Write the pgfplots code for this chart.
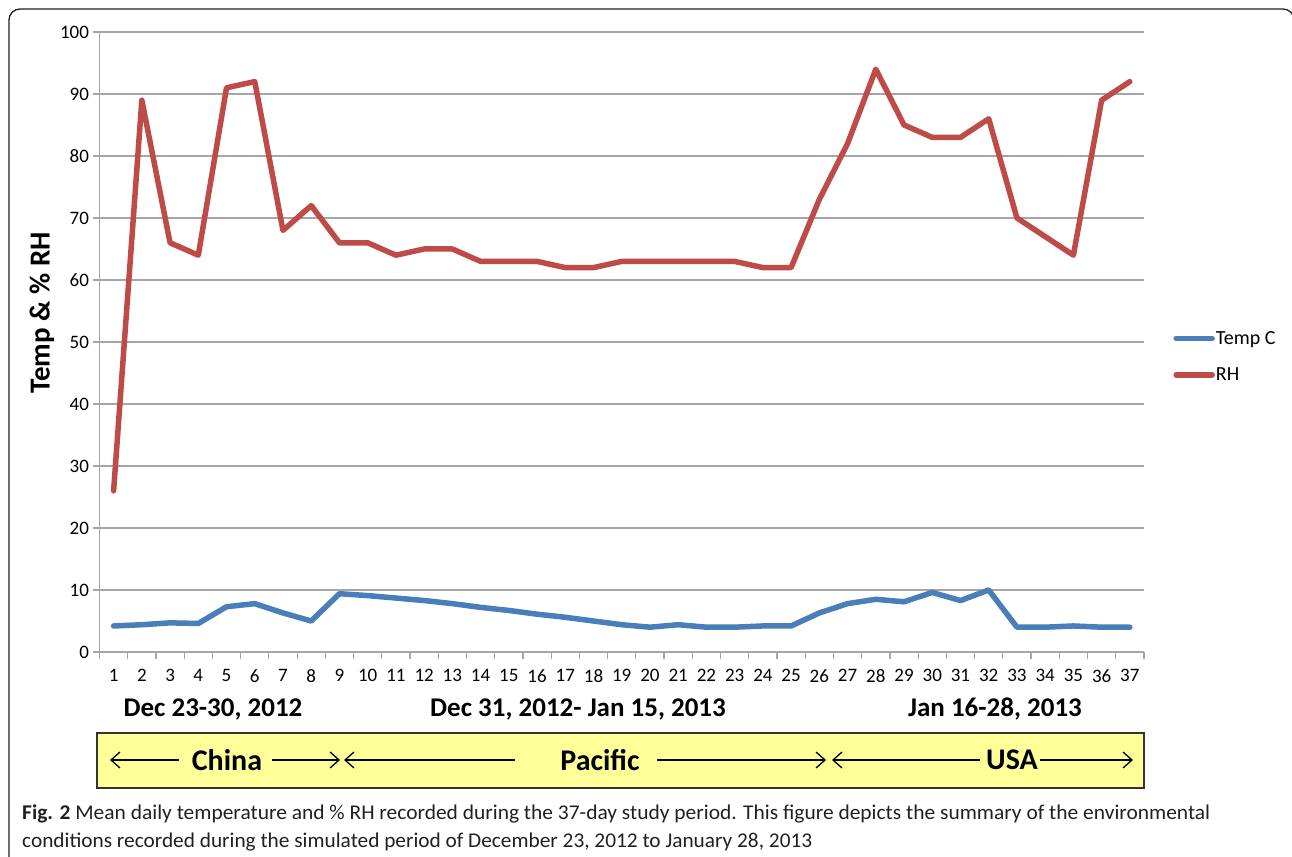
\documentclass[border=0pt]{standalone}
\usepackage{pgfplots}
\pgfplotsset{compat=1.18}
\usepackage{pgfplotstable}
\usepackage{fontspec}
\setmainfont{Carlito}
\usetikzlibrary{arrows.meta}
\definecolor{tempc}{HTML}{4A7EBB}
\definecolor{rhc}{HTML}{BE4B48}
\definecolor{gridc}{HTML}{A6A6A6}
\definecolor{boxy}{HTML}{FFFF99}
\definecolor{capc}{HTML}{231F20}

\pgfplotstableread{
day temp rh
1 4.2 26
2 4.4 89
3 4.7 66
4 4.6 64
5 7.3 91
6 7.8 92
7 6.3 68
8 5.0 72
9 9.4 66
10 9.1 66
11 8.7 64
12 8.3 65
13 7.8 65
14 7.2 63
15 6.7 63
16 6.1 63
17 5.6 62
18 5.0 62
19 4.4 63
20 4.0 63
21 4.4 63
22 4.0 63
23 4.0 63
24 4.2 62
25 4.2 62
26 6.3 73
27 7.8 82
28 8.5 94
29 8.1 85
30 9.6 83
31 8.3 83
32 10.0 86
33 4.0 70
34 4.0 67
35 4.2 64
36 4.0 89
37 4.0 92
}\data

\begin{document}
\begin{tikzpicture}[x=1pt,y=1pt]
\useasboundingbox (0,0) rectangle (1292,856);
% outer frame
\draw[line width=1.3pt, capc] (9,-5) -- (9,836) arc[start angle=180,end angle=90,radius=11] -- (1283,847) arc[start angle=90,end angle=0,radius=11];

\begin{axis}[
  at={(99.5pt,204pt)}, anchor=south west,
  scale only axis, width=1044.5pt, height=620pt,
  xmin=0.5, xmax=37.5, ymin=0, ymax=100,
  axis lines=left,
  axis line style={gridc, line width=1.2pt, -},
  ytick={0,10,...,100},
  xtick={1,...,37},
  minor xtick={0.5,1.5,...,37.5},
  ymajorgrids,
  grid style={gridc, line width=1.2pt},
  tick align=outside,
  major tick length=7pt,
  minor tick length=7pt,
  tick style={gridc, line width=1.2pt},
  major x tick style={draw=none},
  ticklabel style={font=\fontsize{19}{21}\selectfont, text=black},
  xticklabel style={yshift=-7pt},
  /pgf/number format/assume math mode=true,
  legend style={at={(1.028,0.4765)}, anchor=west, draw=none, fill=none,
    font=\fontsize{20}{22}\selectfont, row sep=20pt, inner sep=0pt,
    nodes={inner sep=1pt}},
  legend cell align=left,
  legend image code/.code={\draw[#1, line width=5.5pt, line cap=round] (0pt,0pt) -- (36pt,0pt);},
]
\addplot[tempc, line width=5.5pt, line join=round, line cap=round] table[x=day,y=temp]{\data};
\addlegendentry{Temp C}
\addplot[rhc, line width=5.5pt, line join=round, line cap=round] table[x=day,y=rh]{\data};
\addlegendentry{RH}
\end{axis}

% y label
\node[rotate=90, font=\bfseries\fontsize{29}{31}\selectfont] at (42,543) {Temp \& \% RH};

% period labels
\node[font=\bfseries\fontsize{27}{29}\selectfont] at (213,147) {Dec 23-30, 2012};
\node[font=\bfseries\fontsize{27}{29}\selectfont] at (578,147) {Dec 31, 2012- Jan 15, 2013};
\node[font=\bfseries\fontsize{27}{29}\selectfont] at (995,147) {Jan 16-28, 2013};

% yellow box
\draw[fill=boxy, line width=1.5pt, draw=black!80] (97,68) rectangle (1144,123);
\begin{scope}[line width=1.3pt, black, arrows={-{Straight Barb[length=9pt,width=16pt]}}]
\draw (179,96) -- (110,96);
\draw (272,96) -- (340,96);
\draw (515,96) -- (344,96);
\draw (657,96) -- (826,96);
\draw (980,96) -- (832,96);
\draw (1040,96) -- (1133,96);
\end{scope}
\node[font=\bfseries\fontsize{30}{32}\selectfont] at (227,96) {China};
\node[font=\bfseries\fontsize{30}{32}\selectfont] at (600,96) {Pacific};
\node[font=\bfseries\fontsize{30}{32}\selectfont] at (1012,96) {USA};

% caption
\node[anchor=base west, inner sep=0pt, text=capc, font=\fontsize{21}{24}\selectfont] at (22,36)
  {\resizebox{1188pt}{\height}{\textbf{Fig. 2} Mean daily temperature and \% RH recorded during the 37-day study period. This figure depicts the summary of the environmental}};
\node[anchor=base west, inner sep=0pt, text=capc, font=\fontsize{21}{24}\selectfont] at (22,9)
  {\resizebox{790pt}{\height}{conditions recorded during the simulated period of December 23, 2012 to January 28, 2013}};
\end{tikzpicture}
\end{document}
